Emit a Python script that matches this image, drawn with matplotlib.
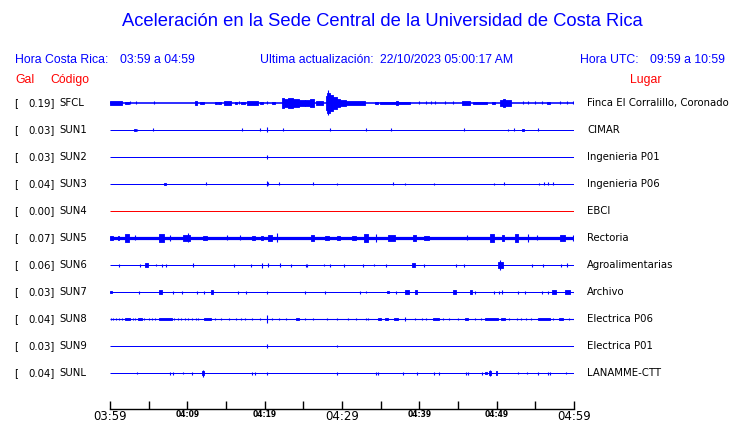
import matplotlib
matplotlib.use("Agg")
import matplotlib.pyplot as plt
from matplotlib.transforms import blended_transform_factory

# Datos de la ventana 03:59 - 04:59 (minutos desde 03:59)
estaciones = ["SFCL", "SUN1", "SUN2", "SUN3", "SUN4", "SUN5",
              "SUN6", "SUN7", "SUN8", "SUN9", "SUNL"]
gal = [0.19, 0.03, 0.03, 0.04, 0.00, 0.07, 0.06, 0.03, 0.04, 0.03, 0.04]
lugares = ["Finca El Corralillo, Coronado", "CIMAR", "Ingenieria P01",
           "Ingenieria P06", "EBCI", "Rectoria", "Agroalimentarias",
           "Archivo", "Electrica P06", "Electrica P01", "LANAMME-CTT"]
activa = [True, True, True, True, False, True, True, True, True, True, True]

# nivel de ruido de fondo (amplitud relativa)
ruido = [0.8, 0.5, 0.5, 0.5, 0.5, 1.6, 0.5, 0.5, 0.55, 0.5, 0.5]

# picos aislados: (minuto, amplitud)
picos = {
    "SFCL": [(2.6, 1.5), (3.3, 1.5), (5.7, 1.5), (16.7, 1.5), (20.3, 1.5),
             (39.9, 1.5), (40.9, 1.5), (41.5, 1.5), (42.0, 1.5), (43.3, 1.5),
             (44.4, 1.5), (53.4, 1.5), (54.1, 1.5), (54.9, 1.5), (55.8, 1.5),
             (58.2, 1.5), (59.1, 1.5), (59.9, 1.5), (28.2, 12.5)],
    "SUN1": [(3.5, 1), (5.6, 1.5), (17.1, 1.5), (19.4, 1.5), (20.3, 2.5),
             (22.4, 1.5), (28.5, 1.5), (33.1, 1.5), (36.4, 1.5), (45.8, 1.5),
             (51.5, 1), (52.2, 1.5), (55.4, 1.5)],
    "SUN2": [(20.3, 2)],
    "SUN3": [(12.4, 1.5), (20.3, 2.5), (20.45, 1.5), (21.8, 1.5), (26.3, 1.5),
             (29.3, 1), (36.6, 1.5), (38.1, 1), (41.9, 1), (49.6, 1),
             (51.0, 1.5), (55.5, 1), (56.1, 1.5), (56.6, 1.5), (57.3, 1.5)],
    "SUN4": [],
    "SUN5": [(3.2, 2.5), (7.8, 3), (10.1, 4.5), (15.1, 2.5), (16.8, 2.5),
             (21.6, 4.5), (34.4, 4), (46.1, 2.5), (54.0, 4), (55.2, 2.5),
             (59.9, 3)],
    "SUN6": [(1.1, 1.5), (3.9, 1.5), (6.0, 1), (6.7, 1.5), (7.3, 1.5),
             (10.7, 2), (16.0, 1.5), (18.2, 1.5), (19.7, 2.5), (20.4, 2),
             (22.0, 2), (23.4, 1.5), (25.3, 1.5), (25.5, 1.5), (27.7, 1),
             (28.5, 1.5), (30.3, 1.5), (32.7, 1.5), (34.2, 1), (35.7, 1.5),
             (40.6, 1.5), (44.7, 1.5), (45.8, 1.5), (50.4, 5), (54.6, 1.5),
             (56.0, 1.5), (58.3, 1.5), (59.1, 2)],
    "SUN7": [(3.8, 1.5), (8.1, 1.5), (9.3, 1.5), (11.3, 1.5), (12.2, 1.5),
             (16.5, 1.5), (17.6, 1.5), (20.3, 1.5), (25.2, 1.5), (27.8, 1.5),
             (32.3, 1.5), (33.1, 1), (37.0, 1.5), (47.2, 1.5), (49.7, 1.5),
             (50.3, 1.5), (50.7, 2), (52.8, 1.5), (53.7, 1.5), (55.9, 1.5),
             (56.6, 1.5), (60.0, 1.5)],
    "SUN8": [(0.1, 1), (0.4, 1), (0.8, 1), (1.2, 1), (1.5, 1), (3.0, 1),
             (3.2, 1), (4.4, 1), (5.0, 1), (5.4, 1), (5.8, 1), (8.3, 1),
             (8.8, 1), (9.2, 1), (9.7, 1), (10.1, 1), (10.6, 1), (11.1, 1),
             (11.4, 1), (13.6, 1), (14.4, 1), (15.4, 1), (16.3, 1), (17.0, 1),
             (17.5, 1), (18.3, 1), (19.4, 1), (20.3, 4), (20.9, 1), (21.8, 1),
             (22.8, 1), (25.2, 1), (26.3, 1), (28.0, 1), (29.3, 1), (30.8, 1),
             (31.8, 1), (33.1, 1), (33.4, 1), (38.1, 2), (39.4, 1), (40.3, 1),
             (40.9, 1), (43.0, 1), (43.8, 1), (45.0, 1), (47.2, 1), (48.0, 1),
             (51.6, 1), (52.6, 1), (53.2, 1), (53.8, 1), (54.5, 1), (57.3, 1),
             (59.3, 1), (60.0, 1)],
    "SUN9": [(20.3, 2), (29.3, 1)],
    "SUNL": [(3.5, 1), (7.8, 1.5), (8.1, 1.5), (9.5, 1), (10.6, 1.5),
             (12.0, 3.5), (18.3, 1.5), (18.7, 1.5), (20.3, 1.5), (29.3, 1.5),
             (34.4, 1.5), (34.7, 1.5), (37.9, 1.5), (39.7, 1.5), (41.9, 1.5),
             (42.5, 1.5), (46.0, 1.5), (46.3, 1.5), (48.1, 1.5), (49.1, 2.5),
             (52.7, 1), (53.9, 1), (55.4, 1.5), (56.6, 1.5), (56.9, 1.5),
             (59.0, 1)],
}

# rafagas de energia: (inicio, fin, amplitud)
rafagas = {
    "SFCL": [(0.0, 1.5, 2), (1.9, 2.4, 1.5), (11.0, 11.2, 2), (11.6, 12.2, 1.5),
             (13.6, 13.8, 1.5), (14.0, 14.4, 1.5), (14.7, 15.7, 2),
             (16.2, 16.4, 1.5), (17.0, 17.5, 1.5), (17.7, 19.2, 2.5),
             (19.4, 19.8, 1.5), (20.9, 21.3, 1.5), (22.2, 22.5, 5),
             (22.5, 23.0, 4), (23.0, 23.6, 5.5), (23.6, 24.5, 4),
             (24.5, 25.2, 3.5), (25.2, 25.9, 3), (25.9, 26.4, 4),
             (26.7, 27.6, 2), (27.9, 28.1, 7), (28.1, 28.4, 10),
             (28.4, 28.8, 8), (28.8, 29.3, 6), (29.3, 29.8, 4.5),
             (29.8, 30.5, 3.5), (30.5, 33.0, 2), (34.3, 34.7, 1.5),
             (34.9, 38.8, 1.5), (37.0, 37.3, 2.5), (45.5, 46.6, 2),
             (47.0, 48.7, 1.5), (49.4, 49.8, 1.5), (50.4, 51.9, 3),
             (50.8, 51.1, 4), (56.5, 56.9, 1.5)],
    "SUN1": [(3.1, 3.3, 1.5), (53.3, 53.5, 1.5)],
    "SUN2": [],
    "SUN3": [(7.0, 7.2, 1.5)],
    "SUN4": [],
    "SUN5": [(0.0, 0.4, 2.5), (1.0, 1.2, 2.3), (2.0, 2.5, 4), (6.4, 7.0, 4),
             (9.4, 10.3, 3), (12.0, 12.6, 2.5), (18.3, 18.7, 2.5),
             (19.5, 19.8, 2.5), (20.4, 20.9, 3.5), (26.0, 26.4, 3.5),
             (27.8, 28.3, 2.5), (29.4, 29.7, 2.5), (31.3, 31.8, 2.5),
             (32.8, 33.3, 4.5), (36.0, 36.8, 3), (39.2, 39.6, 3.5),
             (40.6, 41.2, 2.5), (49.2, 49.7, 4), (50.7, 51.0, 3.5),
             (52.4, 52.7, 4), (58.2, 58.8, 3.5)],
    "SUN6": [(4.5, 4.9, 2.5), (39.0, 39.4, 2.5), (50.2, 50.8, 3)],
    "SUN7": [(0.0, 0.2, 1.5), (6.4, 6.7, 2), (13.0, 13.3, 2), (35.8, 36.1, 1.5),
             (38.2, 38.7, 2), (39.4, 39.7, 2.5), (44.3, 44.8, 2),
             (46.5, 46.8, 2), (57.2, 57.7, 2), (58.9, 59.5, 2.5)],
    "SUN8": [(2.0, 2.6, 1.8), (3.6, 4.1, 1.5), (6.4, 8.0, 1.6), (12.1, 13.1, 1.8),
             (24.1, 24.4, 1.8), (34.6, 35.0, 1.8), (35.6, 36.0, 1.8),
             (36.7, 37.3, 1.5), (41.8, 42.5, 1.8), (45.9, 46.3, 1.8),
             (48.5, 50.2, 1.8), (50.6, 51.1, 1.8), (55.4, 56.9, 1.8),
             (58.0, 58.6, 1.8)],
    "SUN9": [],
    "SUNL": [(11.9, 12.2, 2.5), (48.5, 48.8, 1.5), (49.0, 49.3, 2),
             (49.9, 50.1, 2)],
}

etiquetas_tiempo = ["03:59", "", "04:09", "", "04:19", "", "04:29",
                    "", "04:39", "", "04:49", "", "04:59"]
etiquetas_grandes = ["03:59", "04:29", "04:59"]

AZUL = "#0000ff"
ROJO = "#ff0000"
W, H = 740, 423
ESCALA = 27.0  # amplitud relativa por separacion entre trazas
PX = 0.72      # un pixel en puntos


def fx(x):
    return x / W


def fy(y):
    return 1 - y / H


fig = plt.figure(figsize=(W / 100, H / 100), dpi=100)
ax = fig.add_axes([fx(110), fy(409), 464 / W, 319 / H])
ax.set_xlim(0, 60)
ax.set_ylim((409 - 103) / ESCALA, (90 - 103) / ESCALA)

for i, est in enumerate(estaciones):
    color = AZUL if activa[i] else ROJO
    ax.hlines(i, 0, 60, color=color, lw=2 * ruido[i] * PX)
    for t0, t1, a in rafagas[est]:
        a = (a - 0.4) / ESCALA
        ax.fill_between([t0, t1], i - a, i + a, color=color, lw=0.6)
    if picos[est]:
        ts = [p[0] for p in picos[est]]
        amps = [p[1] / ESCALA for p in picos[est]]
        ax.vlines(ts, [i - a for a in amps], [i + a for a in amps],
                  color=color, lw=0.8)

for lado in ["top", "left", "right"]:
    ax.spines[lado].set_visible(False)
ax.spines["bottom"].set_linewidth(1.0)
ax.set_yticks([])
ax.set_xticks(range(0, 61, 5))
ax.set_xticklabels(etiquetas_tiempo)
ax.tick_params(axis="x", direction="in", length=6, width=1.0, pad=1)
for lab in ax.get_xticklabels():
    if lab.get_text() in etiquetas_grandes:
        lab.set_fontsize(8.5)
    else:
        lab.set_fontsize(5.5)
        lab.set_fontweight("bold")

# etiquetas de cada traza
trans = blended_transform_factory(fig.transFigure, ax.transData)
for i, est in enumerate(estaciones):
    ax.text(fx(14), i, "[", transform=trans, fontsize=7.3, va="center",
            ha="left")
    ax.text(fx(54.5), i, f"{gal[i]:.2f}]", transform=trans, fontsize=7.3,
            va="center", ha="right")
    ax.text(fx(59), i, est, transform=trans, fontsize=7.3, va="center",
            ha="left")
    ax.text(fx(587), i, lugares[i], transform=trans, fontsize=7.3,
            va="center", ha="left")

# encabezado
f_enc = "Liberation Sans"
fig.text(fx(382), fy(22), "Aceleración en la Sede Central de la Universidad de Costa Rica",
         color=AZUL, fontsize=13.2, family=f_enc, ha="center", va="center")
fig.text(fx(15), fy(60), "Hora Costa Rica:", color=AZUL, fontsize=8.8,
         family=f_enc, va="center")
fig.text(fx(120.5), fy(60), "03:59 a 04:59", color=AZUL, fontsize=8.8,
         family=f_enc, va="center")
fig.text(fx(260), fy(60), "Ultima actualización:", color=AZUL, fontsize=8.8,
         family=f_enc, va="center")
fig.text(fx(380), fy(60), "22/10/2023 05:00:17 AM", color=AZUL, fontsize=8.8,
         family=f_enc, va="center")
fig.text(fx(580.5), fy(60), "Hora UTC:", color=AZUL, fontsize=8.8,
         family=f_enc, va="center")
fig.text(fx(650.5), fy(60), "09:59 a 10:59", color=AZUL, fontsize=8.8,
         family=f_enc, va="center")
fig.text(fx(15), fy(80), "Gal", color=ROJO, fontsize=8.8, family=f_enc,
         va="center")
fig.text(fx(50), fy(80), "Código", color=ROJO, fontsize=8.8, family=f_enc,
         va="center")
fig.text(fx(630), fy(80), "Lugar", color=ROJO, fontsize=8.8, family=f_enc,
         va="center")

fig.savefig("out.png", dpi=100)
